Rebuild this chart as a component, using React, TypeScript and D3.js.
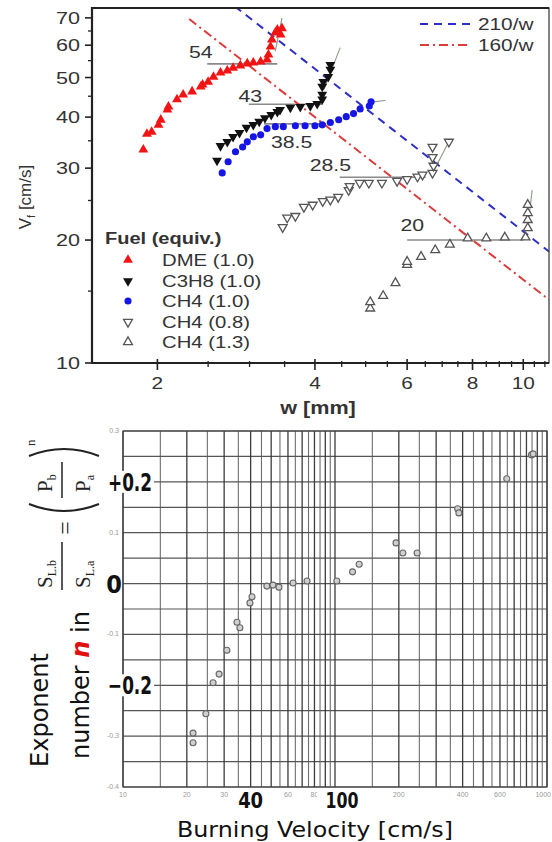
import React from 'react';
import * as d3 from 'd3';

// ---------- Top chart data: flame speed Vf [cm/s] vs channel width w [mm] ----------
const dmeW = [1.88, 1.91, 1.95, 2.01, 2.03, 2.09, 2.10, 2.18, 2.24, 2.33, 2.42, 2.44, 2.50, 2.56, 2.64, 2.72, 2.79, 2.88, 2.97, 3.05, 3.15, 3.24, 3.26, 3.29, 3.31, 3.36, 3.39, 3.44, 3.46];
const dmeV = [33.3, 36.4, 36.8, 38.3, 39.4, 41.7, 42.4, 44.2, 45.4, 46.2, 47.5, 48.0, 48.8, 50.2, 51.4, 52.0, 52.8, 53.5, 54.1, 54.4, 54.7, 55.3, 56.9, 59.5, 61.9, 64.4, 65.5, 63.7, 66.0];

const c3h8W = [2.60, 2.64, 2.72, 2.79, 2.87, 2.96, 3.05, 3.13, 3.21, 3.30, 3.39, 3.43, 3.59, 3.75, 3.92, 4.04, 4.13, 4.13, 4.13, 4.15, 4.24, 4.28, 4.28];
const c3h8V = [31.3, 34.0, 34.8, 35.8, 36.6, 37.7, 38.3, 39.0, 39.8, 40.5, 41.2, 41.7, 42.2, 42.4, 42.6, 43.1, 44.2, 45.4, 47.5, 48.8, 50.2, 52.3, 53.7];

const ch4aW = [2.66, 2.73, 2.82, 2.91, 2.97, 3.05, 3.15, 3.24, 3.36, 3.48, 3.67, 3.83, 4.00, 4.13, 4.28, 4.44, 4.59, 4.74, 4.88, 5.08, 5.12];
const ch4aV = [29.2, 31.1, 32.9, 33.8, 34.8, 35.8, 36.2, 37.5, 37.9, 37.9, 38.1, 38.1, 38.1, 38.3, 38.8, 39.4, 40.1, 40.8, 41.9, 42.6, 43.6];

const ch4bW = [3.47, 3.54, 3.67, 3.81, 3.96, 4.14, 4.28, 4.43, 4.64, 4.66, 4.87, 5.07, 5.37, 5.74, 6.00, 6.28, 6.42, 6.71, 6.74, 6.71, 6.71, 7.21];
const ch4bV = [21.5, 22.7, 22.9, 24.1, 24.4, 24.9, 25.1, 25.5, 26.5, 27.1, 27.6, 27.6, 27.6, 27.9, 28.2, 28.6, 28.9, 29.2, 30.4, 31.9, 33.8, 34.8];

const ch4cW = [5.10, 5.10, 5.40, 5.70, 6.00, 6.00, 6.38, 6.79, 7.24, 7.83, 8.50, 9.22, 10.1, 10.2, 10.2, 10.2, 10.2];
const ch4cV = [13.6, 14.1, 14.6, 15.7, 17.4, 17.7, 18.2, 18.9, 19.5, 20.2, 20.2, 20.3, 20.3, 21.4, 22.4, 23.3, 24.4];

const legendNames = ['DME (1.0)', 'C3H8 (1.0)', 'CH4 (1.0)', 'CH4 (0.8)', 'CH4 (1.3)'];

// Plateau annotations
const plateauText = ['54', '43', '38.5', '28.5', '20'];
const plateauV = [54, 43, 38.5, 28.5, 20];
const plateauW0 = [2.49, 2.99, 3.2, 4.46, 6.0];
const plateauW1 = [3.39, 4.13, 4.2, 6.51, 10.0];
const plateauLabelW = [2.42, 3.01, 3.61, 4.28, 6.14];
const plateauLabelV = [57.6, 45.1, 34.8, 30.6, 21.8];

// Short tangent lines at the ends of each series
const tanW0 = [3.36, 4.16, 5.07, 6.71, 10.2];
const tanV0 = [58, 46.7, 43.4, 29.2, 21.4];
const tanW1 = [3.46, 4.47, 5.46, 7.21, 10.4];
const tanV1 = [70, 59.2, 44, 34.8, 26.5];

// Reference curves V = k / w (with the w where each starts)
const refK = [210, 160];
const refStartW = [1.5, 2.3];
const refNames = ['210/w', '160/w'];

const yTicksTop = [10, 20, 30, 40, 50, 60, 70];
const yMinorTop = [15, 25, 35, 45, 55, 65];
const xTicksTop = [2, 4, 6, 8, 10];
const xMinorTop = [2.5, 3, 3.5, 4.5, 5, 5.5, 6.5, 7, 7.5, 8.5, 9, 9.5, 10.5, 11];

// ---------- Bottom chart data: pressure exponent n vs burning velocity ----------
const burnVel = [21.4, 21.4, 24.6, 26.6, 28.4, 30.9, 34.5, 35.6, 39.7, 40.6, 47.7, 51.0, 54.4, 63.4, 73.8, 102, 121, 130, 194, 209, 244, 379, 384, 646, 845, 860];
const expN = [-0.313, -0.294, -0.256, -0.195, -0.178, -0.131, -0.076, -0.087, -0.038, -0.026, -0.005, -0.003, -0.007, 0.001, 0.005, 0.005, 0.023, 0.038, 0.080, 0.060, 0.060, 0.147, 0.139, 0.206, 0.253, 0.255];

const tinyXTicks = [10, 20, 30, 60, 80, 200, 400, 600];
const tinyYTicks = [0.3, 0.1, -0.1, -0.3, -0.4];
const bigYTicks = [0.2, 0, -0.2];
const bigYText = ['+0.2', '0', '\u22120.2'];
const bigXTicks = [40, 100];

const SText = ({ x, y, sx = 1.3, anchor = 'start', size = 16, weight = 'normal', fill = '#333', children, family = 'Liberation Sans, Arial, sans-serif' }: any) => (
  <text transform={`translate(${x},${y}) scale(${sx},1)`} textAnchor={anchor} fontSize={size} fontWeight={weight} fill={fill} fontFamily={family}>
    {children}
  </text>
);

export default function App() {
  const x = d3.scaleLog().domain([1.5, 11.2]).range([92, 549]);
  const y = d3.scaleLog().domain([10, 74]).range([363, 8]);
  const bx = d3.scaleLog().domain([10, 1000]).range([123, 547]);
  const by = d3.scaleLinear().domain([-0.4, 0.3]).range([787, 431]);

  const triUp = d3.symbol(d3.symbolTriangle, 42)()!;
  const triSm = d3.symbol(d3.symbolTriangle, 34)()!;
  const circ = d3.symbol(d3.symbolCircle, 40)()!;

  const refLine = (k: number, w0: number) => {
    const ws = d3.range(60).map((i) => w0 * Math.pow(11.2 / w0, i / 59));
    return d3.line<number>().x((w) => x(w)).y((w) => y(k / w))(ws.filter((w) => k / w < 80))!;
  };

  const vGrid = [...d3.range(10, 100, 5), ...d3.range(100, 1001, 50)];
  const hGrid = d3.range(0, 15).map((i) => -0.4 + i * 0.05);
  const majors = [10, 20, 30, 40, 50, 60, 70, 80, 90, 100, 200, 300, 400, 500, 600, 700, 800, 900, 1000];

  const series = [
    { w: dmeW, v: dmeV, kind: 'up', fill: '#f21414', stroke: '#f21414' },
    { w: c3h8W, v: c3h8V, kind: 'down', fill: '#111', stroke: '#111' },
    { w: ch4aW, v: ch4aV, kind: 'circle', fill: '#1515e6', stroke: '#1515e6' },
    { w: ch4bW, v: ch4bV, kind: 'downOpen', fill: '#fff', stroke: '#555' },
    { w: ch4cW, v: ch4cV, kind: 'upOpen', fill: '#fff', stroke: '#555' },
  ];

  const marker = (kind: string, fill: string, stroke: string, cx: number, cy: number, key: any) => {
    if (kind === 'circle') return <path key={key} d={circ} transform={`translate(${cx},${cy})`} fill={fill} />;
    if (kind === 'up') return <path key={key} d={triUp} transform={`translate(${cx},${cy})`} fill={fill} />;
    if (kind === 'down') return <path key={key} d={triUp} transform={`translate(${cx},${cy}) rotate(180)`} fill={fill} />;
    if (kind === 'downOpen') return <path key={key} d={triSm} transform={`translate(${cx},${cy}) rotate(180)`} fill={fill} stroke={stroke} strokeWidth={1.3} />;
    return <path key={key} d={triSm} transform={`translate(${cx},${cy})`} fill={fill} stroke={stroke} strokeWidth={1.3} />;
  };

  const legY = [260, 281, 301, 322, 342];
  const narrow = 'Liberation Sans Narrow, DejaVu Sans Condensed, sans-serif';

  return (
    <svg width={552} height={842} style={{ position: 'absolute', left: 0, top: 0, background: '#fff' }} fontFamily="Liberation Sans, Arial, sans-serif">
      <defs>
        <clipPath id="clipTop">
          <rect x={92} y={8} width={457} height={355} />
        </clipPath>
      </defs>

      {/* ================= TOP CHART ================= */}
      <g clipPath="url(#clipTop)">
        {plateauV.map((v, i) => (
          <line key={'pl' + i} x1={x(plateauW0[i])} x2={x(plateauW1[i])} y1={y(v)} y2={y(v)} stroke="#8a8a8a" strokeWidth={1.6} />
        ))}
        <path d={refLine(refK[0], refStartW[0])} fill="none" stroke="#2e2ec8" strokeWidth={2} strokeDasharray="8,6" />
        <path d={refLine(refK[1], refStartW[1])} fill="none" stroke="#dc3c3c" strokeWidth={2} strokeDasharray="9,4,2,4" />
        {tanW0.map((w, i) => (
          <line key={'tn' + i} x1={x(w)} y1={y(tanV0[i])} x2={x(tanW1[i])} y2={y(tanV1[i])} stroke="#8a9a8a" strokeWidth={1.1} />
        ))}
        {series.map((s, si) => s.w.map((w, i) => marker(s.kind, s.fill, s.stroke, x(w), y(s.v[i]), `m${si}-${i}`)))}
      </g>

      {plateauText.map((t, i) => (
        <SText key={'pt' + i} x={x(plateauLabelW[i])} y={y(plateauLabelV[i]) + 6} anchor="middle" size={17} sx={1.25} fill="#333">{t}</SText>
      ))}

      <rect x={92} y={8} width={457} height={355} fill="none" stroke="#333" strokeWidth={1.2} />
      <line x1={92} x2={92} y1={7} y2={364} stroke="#222" strokeWidth={2.2} />
      <line x1={91} x2={549} y1={363} y2={363} stroke="#222" strokeWidth={2.2} />
      <line x1={92} x2={549} y1={8} y2={8} stroke="#222" strokeWidth={2} />

      {yTicksTop.map((t) => (
        <g key={'yt' + t}>
          <line x1={85} x2={92} y1={y(t)} y2={y(t)} stroke="#222" strokeWidth={1.6} />
          <SText x={80} y={y(t) + 6} anchor="end" size={16} sx={1.35} fill="#333">{t}</SText>
        </g>
      ))}
      {yMinorTop.map((t) => (
        <line key={'ym' + t} x1={88} x2={92} y1={y(t)} y2={y(t)} stroke="#222" strokeWidth={1.3} />
      ))}
      {xTicksTop.map((t) => (
        <g key={'xt' + t}>
          <line x1={x(t)} x2={x(t)} y1={359} y2={370} stroke="#222" strokeWidth={1.6} />
          <SText x={x(t)} y={389} anchor="middle" size={16} sx={1.3} fill="#333">{t}</SText>
        </g>
      ))}
      {xMinorTop.map((t) => (
        <line key={'xm' + t} x1={x(t)} x2={x(t)} y1={361} y2={367} stroke="#222" strokeWidth={1.3} />
      ))}

      <g transform="translate(31,197) rotate(-90)">
        <text textAnchor="middle" fontSize={17} fill="#333">
          V<tspan fontSize={11} dy={4}>f</tspan>
          <tspan dy={-4}> [cm/s]</tspan>
        </text>
      </g>
      <SText x={318} y={414} anchor="middle" size={18} sx={1.2} weight="bold" fill="#333">w [mm]</SText>

      <SText x={105} y={244} size={16} sx={1.25} weight="bold" fill="#333">Fuel (equiv.)</SText>
      {series.map((s, i) => (
        <g key={'lg' + i}>
          {marker(s.kind, s.fill, s.stroke, 128, legY[i], 'lm' + i)}
          <SText x={162} y={legY[i] + 6} size={16} sx={1.27} fill="#333">{legendNames[i]}</SText>
        </g>
      ))}

      <line x1={420} x2={470} y1={24} y2={24} stroke="#2e2ec8" strokeWidth={2} strokeDasharray="8,6" />
      <SText x={478} y={30} size={16} sx={1.3} fill="#333">{refNames[0]}</SText>
      <line x1={420} x2={470} y1={45} y2={45} stroke="#dc3c3c" strokeWidth={2} strokeDasharray="9,4,2,4" />
      <SText x={478} y={51} size={16} sx={1.3} fill="#333">{refNames[1]}</SText>

      {/* ================= BOTTOM CHART ================= */}
      <g>
        {hGrid.map((v, i) => (
          <line key={'hg' + i} x1={bx(10)} x2={bx(1000)} y1={by(v)} y2={by(v)} stroke="#444" strokeWidth={1.2} opacity={0.9} />
        ))}
        {vGrid.map((v, i) => {
          const major = majors.includes(v);
          return <line key={'vg' + i} x1={bx(v)} x2={bx(v)} y1={by(0.3)} y2={by(-0.4)} stroke={major ? '#333' : '#555'} strokeWidth={major ? 1.3 : 1.1} opacity={major ? 0.95 : 0.85} />;
        })}
        <rect x={bx(10)} y={by(0.3)} width={bx(1000) - bx(10)} height={by(-0.4) - by(0.3)} fill="none" stroke="#444" strokeWidth={1.2} />

        {burnVel.map((v, i) => (
          <circle key={'bp' + i} cx={bx(v)} cy={by(expN[i])} r={3} fill="#d0d0d0" stroke="#666" strokeWidth={1.1} />
        ))}

        {tinyXTicks.map((t) => (
          <text key={'tx' + t} x={bx(t)} y={797} textAnchor="middle" fontSize={7} fill="#999">{t}</text>
        ))}
        <text x={551} y={797} textAnchor="end" fontSize={7} fill="#999">1000</text>
        {tinyYTicks.map((t) => (
          <text key={'ty' + t} x={119} y={by(t) + 2} textAnchor="end" fontSize={7} fill="#999">{t.toFixed(1)}</text>
        ))}

        {bigYTicks.map((t, i) => (
          <g key={'by' + i}>
            <rect x={104} y={by(t) - 11} width={bigYText[i].length > 1 ? 50 : 14} height={22} fill="#fff" />
            {bigYText[i].length > 1 ? (
              <text x={108} y={by(t) + 9} fontSize={25} fontWeight="bold" fill="#111" fontFamily={narrow} textLength={44} lengthAdjust="spacingAndGlyphs">{bigYText[i]}</text>
            ) : (
              <text x={114} y={by(t) + 9} textAnchor="middle" fontSize={25} fontWeight="bold" fill="#111" fontFamily={narrow}>{bigYText[i]}</text>
            )}
          </g>
        ))}
        {bigXTicks.map((t) => (
          <g key={'bx' + t}>
            <rect x={bx(t) - (t === 100 ? 18 : 14)} y={790} width={t === 100 ? 38 : 28} height={20} fill="#fff" />
            <text x={bx(t) + (t === 100 ? 7 : 0)} y={808} textAnchor="middle" fontSize={22} fontWeight="bold" fill="#111" fontFamily={narrow} textLength={t === 100 ? 33 : 25} lengthAdjust="spacingAndGlyphs">{t}</text>
          </g>
        ))}
        <text x={315} y={837} textAnchor="middle" fontSize={22} fill="#111" fontFamily="DejaVu Sans, sans-serif" textLength={276} lengthAdjust="spacingAndGlyphs">Burning Velocity [cm/s]</text>

        <text transform="translate(48,710) rotate(-90)" textAnchor="middle" fontSize={25} fill="#111" fontFamily="DejaVu Sans, sans-serif" textLength={114} lengthAdjust="spacingAndGlyphs">Exponent</text>
        <text transform="translate(89,685) rotate(-90)" textAnchor="middle" fontSize={24} fill="#111" fontFamily="DejaVu Sans, sans-serif">
          number <tspan fill="#e01010" fontStyle="italic" fontWeight="bold">n</tspan> in
        </text>

        <g transform="translate(65,590) rotate(-90)" fontFamily="Liberation Serif, Times New Roman, serif" fill="#222">
          <text x={2} y={-13} fontSize={21}>S<tspan fontSize={12} dy={4}>L.b</tspan></text>
          <line x1={0} x2={48} y1={-3} y2={-3} stroke="#222" strokeWidth={1.5} />
          <text x={2} y={25} fontSize={21}>S<tspan fontSize={12} dy={4}>L.a</tspan></text>
          <text x={62} y={8} fontSize={24} textAnchor="middle">=</text>
          <path d="M86,-36 Q72,-1 86,34" fill="none" stroke="#222" strokeWidth={2} />
          <text x={98} y={-13} fontSize={21}>P<tspan fontSize={12} dy={4}>b</tspan></text>
          <line x1={92} x2={128} y1={-3} y2={-3} stroke="#222" strokeWidth={1.5} />
          <text x={98} y={25} fontSize={21}>P<tspan fontSize={12} dy={4}>a</tspan></text>
          <path d="M134,-36 Q148,-1 134,34" fill="none" stroke="#222" strokeWidth={2} />
          <text x={144} y={-30} fontSize={13}>n</text>
        </g>
      </g>
    </svg>
  );
}
